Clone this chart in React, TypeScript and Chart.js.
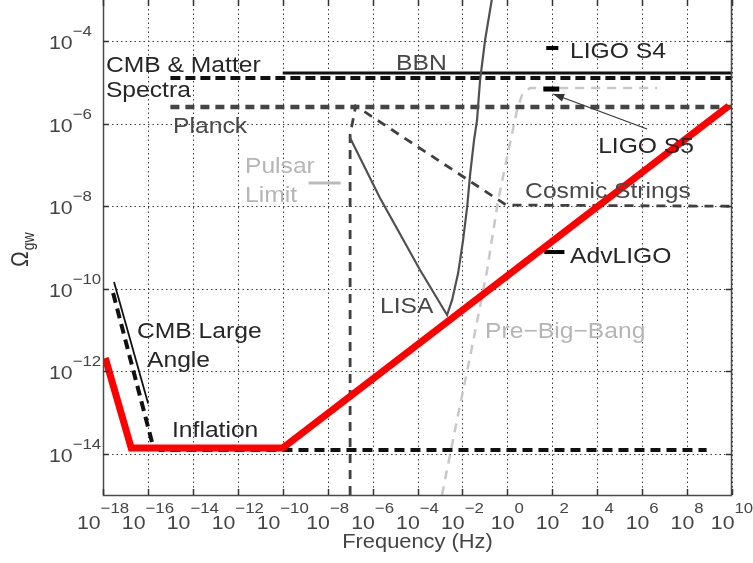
import React, { useEffect, useRef } from 'react';
import { Chart, registerables } from 'chart.js';

Chart.register(...registerables);

// ---- axes ----
const xTicks = [1e-18, 1e-16, 1e-14, 1e-12, 1e-10, 1e-8, 1e-6, 1e-4, 1e-2, 1e0, 1e2, 1e4, 1e6, 1e8, 1e10];
const xTickExponents = ['−18', '−16', '−14', '−12', '−10', '−8', '−6', '−4', '−2', '0', '2', '4', '6', '8', '10'];
const yTicks = [1e-14, 1e-12, 1e-10, 1e-8, 1e-6, 1e-4];
const yTickExponents = ['−14', '−12', '−10', '−8', '−6', '−4'];

// ---- series (frequency in Hz, Omega_gw) ----
const redFreq = [1.26e-18, 1.8e-17, 1.0e-10, 7.1e9];
const redOmega = [2.09e-12, 1.38e-14, 1.38e-14, 2.7e-6];

const inflationFreq = [2.82e-18, 1.55e-16, 3.47e-16, 7.41e8];
const inflationOmega = [7.9e-11, 1.82e-14, 1.23e-14, 1.23e-14];

const cmbLargeAngleFreq = [3.09e-18, 1.02e-16];
const cmbLargeAngleOmega = [1.45e-10, 1.66e-13];

const cmbMatterFreq = [1e-15, 1e10];
const cmbMatterOmega = [1.29e-5, 1.29e-5];

const bbnFreq = [1e-10, 1e10];
const bbnOmega = [1.7e-5, 1.7e-5];

const planckFreq = [1e-15, 1e10];
const planckOmega = [2.55e-6, 2.55e-6];

const pulsarFreq = [1.41e-9, 3.8e-8];
const pulsarOmega = [3.66e-8, 3.66e-8];

const cosmicFreq = [1e-7, 1e-7, 1.78e-7, 0.89, 1e10];
const cosmicOmega = [1e-15, 5.4e-7, 2.7e-6, 1.07e-8, 1.0e-8];

const lisaFreq = [9.55e-8, 2.14e-6, 1.3e-4, 2.07e-3, 3.47e-3, 6.45e-3, 1.07e-2, 1.62e-2, 2.19e-2, 3.3e-2, 4.47e-2, 6.1e-2, 0.102, 0.209];
const lisaOmega = [4.8e-7, 1.58e-8, 2.85e-10, 2.31e-11, 5.37e-11, 2.4e-10, 1.51e-9, 9.5e-9, 5.75e-8, 4.07e-7, 1.23e-6, 1.15e-5, 1.07e-4, 1.12e-3];

const preBigBangFreq = [1.23e-3, 5.75e-3, 2.69e-2, 0.126, 0.389, 1.32, 2.7, 4.5, 10.2, 4.7e6];
const preBigBangOmega = [1e-15, 6.6e-14, 3.9e-12, 2.85e-10, 1.41e-8, 3.4e-7, 2.14e-6, 5.0e-6, 7.4e-6, 7.4e-6];

const ligoS4Freq = [54, 186];
const ligoS4Omega = [6.86e-5, 6.86e-5];

const ligoS5Freq = [40, 204];
const ligoS5Omega = [6.95e-6, 6.95e-6];

const advLigoFreq = [44, 347];
const advLigoOmega = [7.76e-10, 7.76e-10];

const arrowFreq = [1.66e6, 109];
const arrowOmega = [7.46e-7, 5.26e-6];

// ---- text annotations (anchored at data coordinates: left edge, baseline) ----
const annotations = [
  { text: 'CMB & Matter', f: 1.35e-18, o: 1.8e-5, tone: 'dark' },
  { text: 'Spectra', f: 1.35e-18, o: 4.47e-6, tone: 'dark' },
  { text: 'Planck', f: 1.32e-15, o: 5.97e-7, tone: 'mid' },
  { text: 'Pulsar', f: 2.09e-12, o: 6.4e-8, tone: 'light' },
  { text: 'Limit', f: 2.09e-12, o: 1.27e-8, tone: 'light' },
  { text: 'BBN', f: 1.11e-5, o: 2.01e-5, tone: 'mid' },
  { text: 'LIGO S4', f: 617, o: 3.93e-5, tone: 'dark' },
  { text: 'LIGO S5', f: 1.1e4, o: 1.95e-7, tone: 'dark' },
  { text: 'Cosmic Strings', f: 6.17, o: 1.58e-8, tone: 'mid' },
  { text: 'AdvLIGO', f: 617, o: 4.2e-10, tone: 'dark' },
  { text: 'LISA', f: 2.15e-6, o: 2.58e-11, tone: 'mid' },
  { text: 'Pre−Big−Bang', f: 0.102, o: 6.4e-12, tone: 'light' },
  { text: 'CMB Large', f: 3.27e-17, o: 6.4e-12, tone: 'dark' },
  { text: 'Angle', f: 9.1e-17, o: 1.27e-12, tone: 'dark' },
  { text: 'Inflation', f: 1.18e-15, o: 2.55e-14, tone: 'dark' },
];

const FONT = '"Liberation Sans", Arial, Helvetica, sans-serif';
const TONES: Record<string, string> = { dark: '#262626', mid: '#484848', light: '#b5b5b5' };
const SX = 1.12;

const pts = (xs: number[], ys: number[]) => xs.map((x, i) => ({ x, y: ys[i] }));

function drawText(ctx: CanvasRenderingContext2D, text: string, x: number, y: number, size: number, color: string) {
  ctx.save();
  ctx.font = `${size}px ${FONT}`;
  ctx.fillStyle = color;
  ctx.textBaseline = 'alphabetic';
  ctx.textAlign = 'left';
  ctx.translate(x, y);
  ctx.scale(SX, 1);
  ctx.fillText(text, 0, 0);
  ctx.restore();
}
function textW(ctx: CanvasRenderingContext2D, text: string, size: number) {
  ctx.save();
  ctx.font = `${size}px ${FONT}`;
  const w = ctx.measureText(text).width * SX;
  ctx.restore();
  return w;
}

function strokeSeg(ctx: CanvasRenderingContext2D, x0: number, y0: number, x1: number, y1: number) {
  ctx.beginPath();
  ctx.moveTo(x0, y0);
  ctx.lineTo(x1, y1);
  ctx.stroke();
}

const decorPlugin = {
  id: 'decor',
  beforeDatasetsDraw(chart: any) {
    const ctx: CanvasRenderingContext2D = chart.ctx;
    const a = chart.chartArea;
    const xs = chart.scales.x, ys = chart.scales.y;
    ctx.save();
    ctx.globalAlpha = 1;
    ctx.strokeStyle = '#3c3c3c';
    ctx.lineWidth = 1;
    ctx.setLineDash([1.5, 3]);
    for (let i = 0; i < xTicks.length; i++) {
      const px = Math.round(xs.getPixelForValue(xTicks[i])) + 0.5;
      strokeSeg(ctx, px, a.top, px, a.bottom);
    }
    for (let i = 0; i < yTicks.length; i++) {
      const py = Math.round(ys.getPixelForValue(yTicks[i])) + 0.5;
      strokeSeg(ctx, a.left, py, a.right, py);
    }
    ctx.restore();
  },
  afterDatasetsDraw(chart: any) {
    const ctx: CanvasRenderingContext2D = chart.ctx;
    const a = chart.chartArea;
    const xs = chart.scales.x, ys = chart.scales.y;
    // arrow head
    const x0 = xs.getPixelForValue(arrowFreq[0]), y0 = ys.getPixelForValue(arrowOmega[0]);
    const x1 = xs.getPixelForValue(arrowFreq[1]), y1 = ys.getPixelForValue(arrowOmega[1]);
    const ang = Math.atan2(y1 - y0, x1 - x0);
    ctx.save();
    ctx.fillStyle = '#333';
    ctx.beginPath();
    ctx.moveTo(x1, y1);
    ctx.lineTo(x1 - 11 * Math.cos(ang) + 4 * Math.sin(ang), y1 - 11 * Math.sin(ang) - 4 * Math.cos(ang));
    ctx.lineTo(x1 - 11 * Math.cos(ang) - 4 * Math.sin(ang), y1 - 11 * Math.sin(ang) + 4 * Math.cos(ang));
    ctx.closePath();
    ctx.fill();
    ctx.restore();

    ctx.save();
    ctx.setLineDash([]);
    ctx.strokeStyle = '#4a4a4a';
    ctx.lineWidth = 1.5;
    ctx.beginPath();
    ctx.moveTo(a.left + 0.5, a.top);
    ctx.lineTo(a.left + 0.5, a.bottom + 0.5);
    ctx.lineTo(a.right - 0.5, a.bottom + 0.5);
    ctx.lineTo(a.right - 0.5, a.top);
    ctx.stroke();
    ctx.lineWidth = 1.5;
    ctx.strokeStyle = '#333';
    for (let i = 0; i < xTicks.length; i++) {
      const px = Math.round(xs.getPixelForValue(xTicks[i])) + 0.5;
      strokeSeg(ctx, px, a.bottom, px, a.bottom - 6);
      strokeSeg(ctx, px, a.top, px, a.top + 6);
    }
    for (let i = 0; i < yTicks.length; i++) {
      const py = Math.round(ys.getPixelForValue(yTicks[i])) + 0.5;
      strokeSeg(ctx, a.left, py, a.left + 6, py);
      strokeSeg(ctx, a.right, py, a.right - 6, py);
    }
    ctx.restore();
  },
  afterDraw(chart: any) {
    const ctx: CanvasRenderingContext2D = chart.ctx;
    const a = chart.chartArea;
    const xs = chart.scales.x, ys = chart.scales.y;
    const tickColor = '#444';
    xTicks.forEach((v, i) => {
      const px = xs.getPixelForValue(v);
      const bw = textW(ctx, '10', 19);
      const ew = textW(ctx, xTickExponents[i], 15);
      const left = px - (bw + ew) / 2;
      drawText(ctx, '10', left, a.bottom + 34, 19, tickColor);
      drawText(ctx, xTickExponents[i], left + bw, a.bottom + 18, 15, tickColor);
    });
    yTicks.forEach((v, i) => {
      const py = ys.getPixelForValue(v);
      const bw = textW(ctx, '10', 19);
      drawText(ctx, '10', 49, py + 8, 19, tickColor);
      drawText(ctx, yTickExponents[i], 49 + bw, py - 5, 15, tickColor);
    });
    const tw = textW(ctx, 'Frequency (Hz)', 19.5);
    drawText(ctx, 'Frequency (Hz)', (a.left + a.right) / 2 - tw / 2, 548, 19.5, tickColor);
    ctx.save();
    ctx.translate(28, 267);
    ctx.rotate(-Math.PI / 2);
    ctx.scale(1, SX);
    ctx.fillStyle = '#333';
    ctx.font = `21px ${FONT}`;
    ctx.fillText('Ω', 0, 0);
    const ow = ctx.measureText('Ω').width;
    ctx.font = `14px ${FONT}`;
    ctx.fillText('gw', ow + 1, 5.5);
    ctx.restore();
    annotations.forEach((t) => {
      drawText(ctx, t.text, xs.getPixelForValue(t.f), ys.getPixelForValue(t.o), 22, TONES[t.tone]);
    });
  },
};

function line(data: any[], color: string, width: number, dash: number[] = []) {
  return {
    data,
    showLine: true,
    borderColor: color,
    backgroundColor: color,
    borderWidth: width,
    borderDash: dash,
    pointRadius: 0,
    pointHoverRadius: 0,
    fill: false,
    tension: 0,
    clip: 0,
  };
}

export default function App() {
  const ref = useRef<HTMLCanvasElement | null>(null);
  useEffect(() => {
    if (!ref.current) return;
    const chart = new Chart(ref.current, {
      type: 'scatter',
      data: {
        datasets: [
          { ...line(pts(redFreq, redOmega), '#ff0000', 7), borderCapStyle: 'butt', borderJoinStyle: 'miter' },
          line(pts(ligoS4Freq, ligoS4Omega), '#000', 4),
          line(pts(ligoS5Freq, ligoS5Omega), '#000', 5),
          line(pts(advLigoFreq, advLigoOmega), '#000', 4),
          line(pts(arrowFreq, arrowOmega), '#333', 1.2),
          line(pts(lisaFreq, lisaOmega), '#505050', 2.2),
          line(pts(cmbLargeAngleFreq, cmbLargeAngleOmega), '#111', 1.8),
          line(pts(bbnFreq, bbnOmega), '#111', 3),
          line(pts(cmbMatterFreq, cmbMatterOmega), '#111', 4, [10, 5]),
          line(pts(planckFreq, planckOmega), '#454545', 4.5, [9, 6]),
          line(pts(inflationFreq, inflationOmega), '#111', 4, [10, 6]),
          line(pts(cosmicFreq, cosmicOmega), '#404040', 2.8, [9, 7]),
          line(pts(pulsarFreq, pulsarOmega), '#bbbbbb', 3),
          line(pts(preBigBangFreq, preBigBangOmega), '#c8c8c8', 2.5, [9, 7]),
        ] as any,
      },
      options: {
        animation: false,
        responsive: false,
        maintainAspectRatio: false,
        layout: { padding: { left: 0, right: 21, top: 0, bottom: 0 } },
        plugins: { legend: { display: false }, tooltip: { enabled: false } },
        events: [],
        scales: {
          x: {
            type: 'logarithmic',
            min: 1e-18,
            max: 1e10,
            afterBuildTicks: (s: any) => { s.ticks = xTicks.map((v) => ({ value: v })); },
            afterFit: (s: any) => { s.height = 68; },
            ticks: { display: false },
            grid: { display: false, drawTicks: false },
            border: { display: false },
          },
          y: {
            type: 'logarithmic',
            min: 1e-15,
            max: 1e-3,
            afterBuildTicks: (s: any) => { s.ticks = yTicks.map((v) => ({ value: v })); },
            afterFit: (s: any) => { s.width = 103; },
            ticks: { display: false },
            grid: { display: false, drawTicks: false },
            border: { display: false },
          },
        },
      } as any,
      plugins: [decorPlugin],
    });
    return () => chart.destroy();
  }, []);
  return (
    <div style={{ position: 'absolute', left: 0, top: 0, width: 753, height: 563, background: '#fff' }}>
      <canvas ref={ref} width={753} height={563} style={{ display: 'block' }} />
    </div>
  );
}
